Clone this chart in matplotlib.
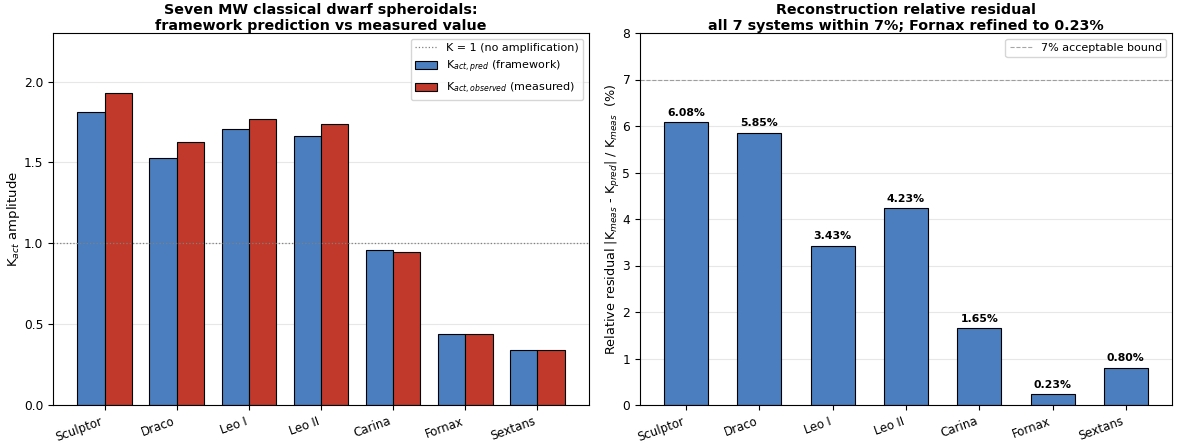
import numpy as np
import matplotlib
matplotlib.use("Agg")
import matplotlib.pyplot as plt

# dSph sample
galaxies = ["Sculptor", "Draco", "Leo I", "Leo II", "Carina", "Fornax", "Sextans"]
k_pred = [1.814, 1.530, 1.709, 1.662, 0.960, 0.441, 0.340]
k_obs = [1.932, 1.625, 1.770, 1.735, 0.944, 0.442, 0.337]
residual_pct = [6.08, 5.85, 3.43, 4.23, 1.65, 0.23, 0.80]

BLUE = "#4a7ebf"
RED = "#c0392b"

fig = plt.figure(figsize=(11.81, 4.46), dpi=100)
ax1 = fig.add_axes([53 / 1181, 41 / 446, 536 / 1181, 372 / 446])
ax2 = fig.add_axes([640 / 1181, 41 / 446, 532 / 1181, 372 / 446])

x = np.arange(len(galaxies))
w = 0.38

# --- left: predicted vs measured amplitude ---
ax1.axhline(1.0, color="gray", linestyle=":", linewidth=0.9, label="K = 1 (no amplification)")
ax1.bar(x - w / 2, k_pred, w, color=BLUE, edgecolor="black", linewidth=0.8,
        label=r"K$_{act,pred}$ (framework)")
ax1.bar(x + w / 2, k_obs, w, color=RED, edgecolor="black", linewidth=0.8,
        label=r"K$_{act,observed}$ (measured)")
ax1.set_ylim(0, 2.3)
ax1.set_yticks([0.0, 0.5, 1.0, 1.5, 2.0])
ax1.set_ylabel(r"K$_{act}$ amplitude", fontsize=9.5, labelpad=1)
ax1.set_xticks(x)
ax1.set_xticklabels(galaxies, rotation=20, ha="right", fontsize=8.5)
ax1.tick_params(axis="y", labelsize=8.8)
ax1.set_title("Seven MW classical dwarf spheroidals:\nframework prediction vs measured value",
              fontsize=10.3, fontweight="bold", pad=2)
ax1.grid(axis="y", alpha=0.3)
ax1.set_axisbelow(True)
ax1.legend(loc="upper right", fontsize=8)

# --- right: relative residual ---
bars = ax2.bar(x, residual_pct, 0.6, color=BLUE, edgecolor="black", linewidth=0.8)
ax2.axhline(7.0, color="gray", linestyle="--", linewidth=0.8, alpha=0.7,
            label="7% acceptable bound")
for b, v in zip(bars, residual_pct):
    ax2.text(b.get_x() + b.get_width() / 2, v + 0.1, f"{v:.2f}%", ha="center",
             va="bottom", fontsize=7.8, fontweight="bold")
ax2.set_ylim(0, 8)
ax2.set_ylabel(r"Relative residual |K$_{meas}$ - K$_{pred}$| / K$_{meas}$  (%)",
               fontsize=9.2, labelpad=0)
ax2.set_xticks(x)
ax2.set_xticklabels(galaxies, rotation=20, ha="right", fontsize=8.5)
ax2.tick_params(axis="y", labelsize=8.8)
ax2.set_title("Reconstruction relative residual\nall 7 systems within 7%; Fornax refined to 0.23%",
              fontsize=10.3, fontweight="bold", pad=2)
ax2.grid(axis="y", alpha=0.3)
ax2.set_axisbelow(True)
ax2.legend(loc="upper right", fontsize=8)

fig.savefig("out.png", dpi=100)
